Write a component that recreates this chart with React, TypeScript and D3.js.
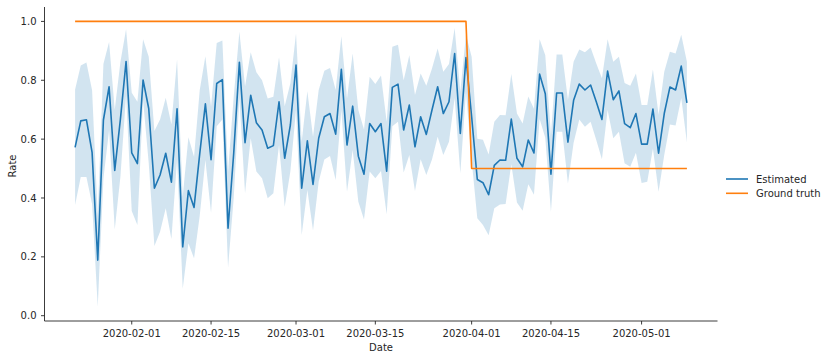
import React from "react";
import * as d3 from "d3";

// daily observations, starting 2020-01-22
const startDate = "2020-01-22";

const estimated = [
  0.572, 0.662, 0.666, 0.555, 0.189, 0.665, 0.778, 0.494, 0.668, 0.864,
  0.553, 0.517, 0.801, 0.704, 0.433, 0.478, 0.552, 0.454, 0.703, 0.234,
  0.425, 0.368, 0.550, 0.720, 0.530, 0.789, 0.802, 0.297, 0.552, 0.861,
  0.588, 0.749, 0.656, 0.631, 0.569, 0.578, 0.727, 0.535, 0.648, 0.852,
  0.433, 0.594, 0.446, 0.603, 0.676, 0.687, 0.617, 0.837, 0.580, 0.712,
  0.542, 0.481, 0.653, 0.625, 0.653, 0.491, 0.776, 0.787, 0.631, 0.716,
  0.574, 0.676, 0.616, 0.699, 0.778, 0.687, 0.727, 0.891, 0.619, 0.877,
  0.676, 0.463, 0.452, 0.411, 0.511, 0.529, 0.528, 0.668, 0.535, 0.506,
  0.597, 0.553, 0.821, 0.754, 0.481, 0.757, 0.757, 0.590, 0.732, 0.787,
  0.767, 0.784, 0.727, 0.667, 0.831, 0.734, 0.764, 0.653, 0.639, 0.687,
  0.583, 0.583, 0.702, 0.552, 0.687, 0.777, 0.767, 0.848, 0.723,
];

const upper = [
  0.769, 0.850, 0.860, 0.766, 0.340, 0.855, 0.930, 0.700, 0.862, 0.973,
  0.758, 0.727, 0.939, 0.880, 0.628, 0.667, 0.741, 0.650, 0.871, 0.404,
  0.606, 0.540, 0.766, 0.882, 0.710, 0.927, 0.935, 0.489, 0.744, 0.965,
  0.780, 0.895, 0.827, 0.800, 0.738, 0.744, 0.878, 0.712, 0.790, 0.959,
  0.591, 0.763, 0.608, 0.767, 0.832, 0.842, 0.767, 0.950, 0.738, 0.891,
  0.699, 0.633, 0.812, 0.787, 0.816, 0.659, 0.914, 0.921, 0.800, 0.885,
  0.750, 0.823, 0.781, 0.840, 0.908, 0.829, 0.855, 0.978, 0.761, 0.955,
  0.880, 0.601, 0.598, 0.548, 0.659, 0.682, 0.681, 0.821, 0.687, 0.653,
  0.745, 0.703, 0.939, 0.885, 0.614, 0.888, 0.888, 0.733, 0.863, 0.905,
  0.895, 0.911, 0.857, 0.807, 0.939, 0.863, 0.880, 0.791, 0.781, 0.823,
  0.716, 0.716, 0.837, 0.683, 0.829, 0.897, 0.891, 0.955, 0.863,
];

const lower = [
  0.376, 0.471, 0.471, 0.380, 0.031, 0.465, 0.630, 0.293, 0.472, 0.750,
  0.356, 0.308, 0.733, 0.518, 0.237, 0.285, 0.365, 0.261, 0.530, 0.092,
  0.246, 0.195, 0.340, 0.529, 0.350, 0.644, 0.667, 0.164, 0.400, 0.740,
  0.416, 0.603, 0.490, 0.467, 0.399, 0.416, 0.580, 0.370, 0.490, 0.700,
  0.274, 0.427, 0.290, 0.455, 0.531, 0.543, 0.461, 0.699, 0.421, 0.563,
  0.387, 0.327, 0.490, 0.467, 0.492, 0.345, 0.644, 0.659, 0.487, 0.546,
  0.424, 0.532, 0.478, 0.531, 0.608, 0.546, 0.591, 0.740, 0.484, 0.760,
  0.529, 0.331, 0.308, 0.273, 0.365, 0.378, 0.380, 0.515, 0.385, 0.357,
  0.447, 0.411, 0.668, 0.605, 0.353, 0.625, 0.625, 0.449, 0.588, 0.667,
  0.642, 0.659, 0.597, 0.532, 0.699, 0.603, 0.625, 0.518, 0.506, 0.554,
  0.451, 0.455, 0.568, 0.421, 0.546, 0.650, 0.646, 0.740, 0.589,
];

const groundTruth = [
  1, 1, 1, 1, 1, 1, 1, 1, 1, 1, 1, 1, 1, 1, 1, 1, 1, 1, 1, 1,
  1, 1, 1, 1, 1, 1, 1, 1, 1, 1, 1, 1, 1, 1, 1, 1, 1, 1, 1, 1,
  1, 1, 1, 1, 1, 1, 1, 1, 1, 1, 1, 1, 1, 1, 1, 1, 1, 1, 1, 1,
  1, 1, 1, 1, 1, 1, 1, 1, 1, 1,
  0.5, 0.5, 0.5, 0.5, 0.5, 0.5, 0.5, 0.5, 0.5, 0.5, 0.5, 0.5, 0.5,
  0.5, 0.5, 0.5, 0.5, 0.5, 0.5, 0.5, 0.5, 0.5, 0.5, 0.5, 0.5, 0.5,
  0.5, 0.5, 0.5, 0.5, 0.5, 0.5, 0.5, 0.5, 0.5, 0.5, 0.5, 0.5, 0.5,
];

const xTicks = ["2020-02-01", "2020-02-15", "2020-03-01", "2020-03-15", "2020-04-01", "2020-04-15", "2020-05-01"];
const yTicks = [0, 0.2, 0.4, 0.6, 0.8, 1.0];

const W = 831, H = 360;
const FONT = "DejaVu Sans, sans-serif";
const BLUE = "#1f77b4", ORANGE = "#ff7f0e", INK = "#262626";

export default function App() {
  const parse = d3.timeParse("%Y-%m-%d");
  const fmt = d3.timeFormat("%Y-%m-%d");
  const t0 = parse(startDate)!;
  const dates = estimated.map((_, i) => d3.timeDay.offset(t0, i));

  const [dMin, dMax] = d3.extent(dates) as [Date, Date];
  const pad = (+dMax - +dMin) * 0.05;
  const x = d3.scaleTime().domain([new Date(+dMin - pad), new Date(+dMax + pad)]).range([44.5, 717.5]);
  const y = d3.scaleLinear().domain([-0.018, 1.049]).range([321, 7]);

  const rows = dates.map((d, i) => ({ d, m: estimated[i], lo: lower[i], hi: upper[i], gt: groundTruth[i] }));

  const band = d3.area<any>().x(r => x(r.d)).y0(r => y(r.lo)).y1(r => y(r.hi))(rows) || "";
  const est = d3.line<any>().x(r => x(r.d)).y(r => y(r.m))(rows) || "";
  const truth = d3.line<any>().x(r => x(r.d)).y(r => y(r.gt))(rows) || "";

  const x0 = x.range()[0], x1 = x.range()[1];
  const yb = y.range()[0], yt = y.range()[1];

  return (
    <svg width={W} height={H} style={{ position: "absolute", left: 0, top: 0, background: "#fff" }} fontFamily={FONT}>
      <path d={band} fill={BLUE} fillOpacity={0.2} stroke="none" />
      <path d={est} fill="none" stroke={BLUE} strokeWidth={1.6} strokeLinejoin="round" />
      <path d={truth} fill="none" stroke={ORANGE} strokeWidth={1.6} strokeLinejoin="round" />

      {/* spines */}
      <line x1={x0} x2={x0} y1={yt} y2={yb} stroke={INK} strokeWidth={0.9} />
      <line x1={x0} x2={x1} y1={yb} y2={yb} stroke={INK} strokeWidth={0.9} />

      {xTicks.map(s => {
        const px = x(parse(s)!);
        return (
          <g key={s}>
            <line x1={px} x2={px} y1={yb} y2={yb + 3.5} stroke={INK} strokeWidth={0.9} />
            <text x={px} y={337} textAnchor="middle" fontSize={10} fill={INK}>{fmt(parse(s)!)}</text>
          </g>
        );
      })}
      {yTicks.map(v => (
        <g key={v}>
          <line x1={x0 - 3.5} x2={x0} y1={y(v)} y2={y(v)} stroke={INK} strokeWidth={0.9} />
          <text x={36.5} y={y(v) + 3.6} textAnchor="end" fontSize={10} fill={INK}>{d3.format(".1f")(v)}</text>
        </g>
      ))}

      <text x={(x0 + x1) / 2} y={350.5} textAnchor="middle" fontSize={10} fill={INK}>Date</text>
      <text transform="translate(15.7,166) rotate(-90)" textAnchor="middle" fontSize={10} fill={INK}>Rate</text>

      {/* legend */}
      <line x1={726} x2={748} y1={179} y2={179} stroke={BLUE} strokeWidth={1.6} />
      <text x={756} y={182.6} fontSize={10} fill={INK}>Estimated</text>
      <line x1={726} x2={748} y1={193.3} y2={193.3} stroke={ORANGE} strokeWidth={1.6} />
      <text x={756} y={196.9} fontSize={10} fill={INK}>Ground truth</text>
    </svg>
  );
}
